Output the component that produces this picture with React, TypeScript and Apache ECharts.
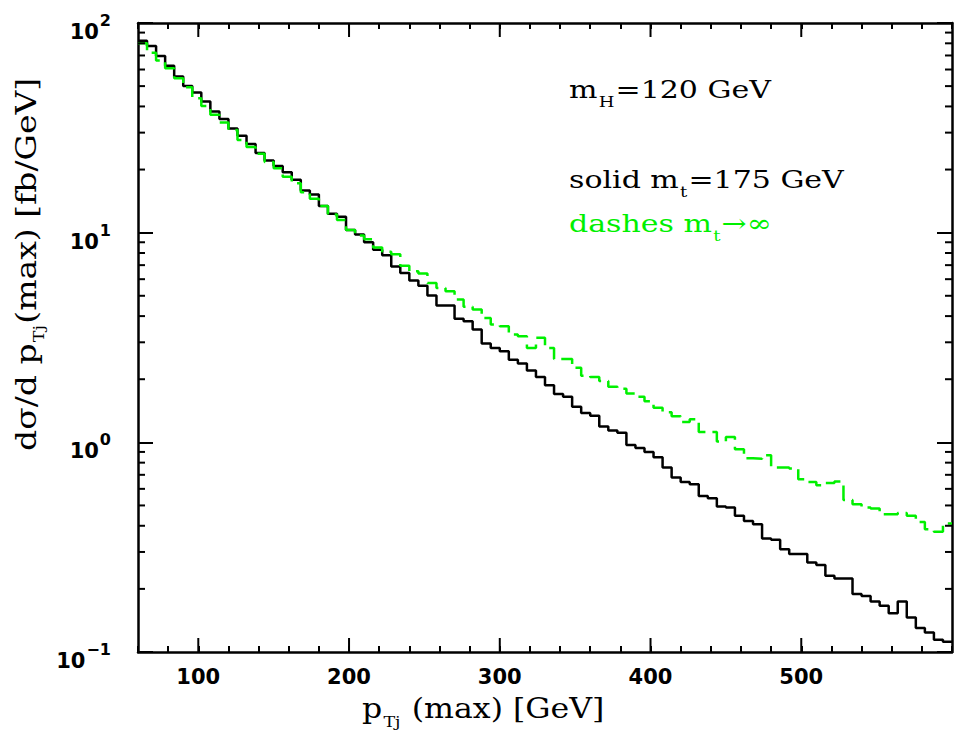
import React, { useEffect, useRef } from "react";
import * as echarts from "echarts";

// ---- data (bins of 6 GeV from 60 to 600 GeV) ----
const X_MIN = 60;
const X_MAX = 600;
const BIN_WIDTH = 6;

// solid: m_t = 175 GeV
const solidValues = [
  82.4, 77.7, 69.6, 62.6, 55.5, 50.1, 46.6, 42.2, 37.8, 34.8, 31.4, 29.0, 26.5, 24.0, 22.1,
  20.8, 19.4, 17.9, 15.9, 15.2, 13.4, 12.3, 11.9, 10.3, 9.8, 9.0, 8.3, 7.8, 6.9, 6.43,
  5.91, 5.59, 5.01, 4.49, 4.49, 3.88, 3.78, 3.45, 2.96, 2.82, 2.72, 2.48, 2.38, 2.2, 2.05,
  1.87, 1.7, 1.65, 1.48, 1.38, 1.34, 1.19, 1.14, 1.11, 0.97, 0.94, 0.9, 0.85, 0.758, 0.679,
  0.647, 0.631, 0.555, 0.541, 0.494, 0.489, 0.446, 0.422, 0.407, 0.348, 0.343, 0.309, 0.293, 0.293, 0.267,
  0.26, 0.231, 0.224, 0.224, 0.189, 0.185, 0.174, 0.166, 0.153, 0.174, 0.146, 0.13, 0.124, 0.1145, 0.112,
];

// dashes: m_t -> infinity
const dashedValues = [
  80.0, 72.2, 66.2, 60.8, 54.5, 49.4, 43.8, 40.2, 36.5, 33.5, 30.9, 27.7, 25.6, 23.8, 21.7,
  20.3, 18.5, 17.2, 15.6, 14.5, 13.4, 12.2, 11.5, 10.3, 9.7, 9.3, 8.5, 8.1, 7.9, 6.96,
  6.54, 6.38, 5.76, 5.45, 5.25, 4.8, 4.43, 4.3, 3.92, 3.65, 3.58, 3.27, 3.21, 2.82, 3.15,
  2.82, 2.5, 2.5, 2.27, 2.08, 2.05, 1.96, 1.84, 1.8, 1.71, 1.65, 1.57, 1.46, 1.39, 1.33,
  1.25, 1.29, 1.12, 1.12, 1.01, 1.06, 0.926, 0.84, 0.836, 0.867, 0.758, 0.758, 0.75, 0.667, 0.647,
  0.624, 0.64, 0.65, 0.531, 0.507, 0.489, 0.483, 0.454, 0.454, 0.46, 0.446, 0.417, 0.385, 0.375, 0.41,
];

const xLabelValues = [100, 200, 300, 400, 500];
const yMin = 0.1;
const yMax = 100;
const yMinorMultipliers = [2, 3, 4, 5, 6, 7, 8, 9];
const yDecadeStarts = [0.1, 1, 10];

const SERIF = "DejaVu Serif";
const SANS = "DejaVu Sans";
const GREEN = "#00f000";

function stepData(values: number[]) {
  const out: number[][] = [];
  for (let i = 0; i <= values.length; i++) {
    out.push([X_MIN + i * BIN_WIDTH, values[Math.min(i, values.length - 1)]]);
  }
  return out;
}

function richSerif(size: number, subSize: number, subPad: number, color: string) {
  return {
    m: { fontSize: size, fontFamily: SERIF, lineHeight: size + 5, verticalAlign: "top", fill: color },
    s: {
      fontSize: subSize,
      fontFamily: SERIF,
      lineHeight: subSize,
      verticalAlign: "top",
      padding: [subPad, 1, 0, 1],
      fill: color,
    },
  };
}

export default function App() {
  const ref = useRef<HTMLDivElement>(null);

  useEffect(() => {
    const chart = echarts.init(ref.current!, null, { renderer: "svg" });

    const yMinorTicks: number[] = [];
    yDecadeStarts.forEach((d) => yMinorMultipliers.forEach((k) => yMinorTicks.push(+(k * d).toPrecision(3))));

    const tickStyle = { stroke: "#000", lineWidth: 2 };

    const option: any = {
      animation: false,
      backgroundColor: "#ffffff",
      grid: { left: 138, top: 23, width: 820, height: 629, show: false },
      xAxis: [
        {
          type: "value",
          min: X_MIN,
          max: X_MAX,
          interval: 20,
          position: "bottom",
          axisLine: { show: true, onZero: false, lineStyle: { color: "#000", width: 2.5 } },
          axisTick: { show: true, inside: true, length: 6, lineStyle: { color: "#000", width: 2 } },
          axisLabel: {
            formatter: (v: number) => (xLabelValues.indexOf(Math.round(v)) >= 0 ? String(Math.round(v)) : ""),
            fontSize: 21,
            fontWeight: "bold",
            fontFamily: SANS,
            color: "#000",
            margin: 14,
          },
          splitLine: { show: false },
        },
        {
          type: "value",
          min: X_MIN,
          max: X_MAX,
          interval: 20,
          position: "top",
          axisLine: { show: true, onZero: false, lineStyle: { color: "#000", width: 2.5 } },
          axisTick: { show: true, inside: true, length: 6, lineStyle: { color: "#000", width: 2 } },
          axisLabel: { show: false },
          splitLine: { show: false },
        },
      ],
      yAxis: [
        {
          type: "log",
          logBase: 10,
          min: yMin,
          max: yMax,
          position: "left",
          axisLine: { show: true, onZero: false, lineStyle: { color: "#000", width: 2.5 } },
          axisTick: { show: true, inside: true, length: 15, lineStyle: { color: "#000", width: 2 } },
          axisLabel: {
            margin: 27,
            formatter: (v: number) => {
              const e = Math.round(Math.log10(v));
              const sup = e < 0 ? "\u2212" + -e : String(e);
              return `{b|10}{s|${sup}}`;
            },
            rich: {
              b: { fontSize: 21, fontWeight: "bold", fontFamily: SANS, color: "#000", lineHeight: 21, padding: [9, 0, 0, 0], verticalAlign: "top" },
              s: { fontSize: 16, fontWeight: "bold", fontFamily: SANS, color: "#000", lineHeight: 16, padding: [0, 0, 0, 1], verticalAlign: "top" },
            },
          },
          splitLine: { show: false },
          minorTick: { show: false },
        },
        {
          type: "log",
          logBase: 10,
          min: yMin,
          max: yMax,
          position: "right",
          axisLine: { show: true, onZero: false, lineStyle: { color: "#000", width: 2.5 } },
          axisTick: { show: true, inside: true, length: 15, lineStyle: { color: "#000", width: 2 } },
          axisLabel: { show: false },
          splitLine: { show: false },
        },
      ],
      series: [
        {
          type: "line",
          name: "solid",
          data: stepData(solidValues),
          step: "end",
          symbol: "none",
          lineStyle: { color: "#000", width: 2.5 },
          z: 3,
        },
        {
          type: "line",
          name: "dashes",
          data: stepData(dashedValues),
          step: "end",
          symbol: "none",
          lineStyle: { color: GREEN, width: 2.5, type: [16, 7] },
          z: 4,
        },
        {
          type: "custom",
          coordinateSystem: "cartesian2d",
          silent: true,
          clip: false,
          z: 5,
          data: yMinorTicks.map((v) => [X_MIN, v]),
          renderItem: (_p: any, api: any) => {
            const v = api.value(1);
            const l = api.coord([X_MIN, v]);
            const r = api.coord([X_MAX, v]);
            return {
              type: "group",
              children: [
                { type: "line", shape: { x1: l[0], y1: l[1], x2: l[0] + 7, y2: l[1] }, style: tickStyle },
                { type: "line", shape: { x1: r[0] - 7, y1: r[1], x2: r[0], y2: r[1] }, style: tickStyle },
              ],
            };
          },
        },
        {
          type: "custom",
          coordinateSystem: "cartesian2d",
          silent: true,
          clip: false,
          z: 5,
          data: xLabelValues.map((v) => [v, yMin]),
          renderItem: (_p: any, api: any) => {
            const x = api.value(0);
            const b = api.coord([x, yMin]);
            const t = api.coord([x, yMax]);
            return {
              type: "group",
              children: [
                { type: "line", shape: { x1: b[0], y1: b[1], x2: b[0], y2: b[1] - 14 }, style: tickStyle },
                { type: "line", shape: { x1: t[0], y1: t[1], x2: t[0], y2: t[1] + 14 }, style: tickStyle },
              ],
            };
          },
        },
      ],
      graphic: [
        {
          type: "text",
          x: 569,
          y: 77,
          scaleX: 1.2,
          style: { text: "{m|m}{s|H}{m|=120 GeV}", rich: richSerif(25, 15, 18, "#000"), fill: "#000", align: "left", verticalAlign: "top" },
        },
        {
          type: "text",
          x: 569,
          y: 167,
          scaleX: 1.2,
          style: { text: "{m|solid m}{s|t}{m|=175 GeV}", rich: richSerif(25, 15, 18, "#000"), fill: "#000", align: "left", verticalAlign: "top" },
        },
        {
          type: "text",
          x: 569,
          y: 210.5,
          scaleX: 1.2,
          style: { text: "{m|dashes m}{s|t}{m|\u2192\u221e}", rich: richSerif(25, 15, 18, GREEN), fill: GREEN, align: "left", verticalAlign: "top" },
        },
        {
          type: "text",
          x: 362,
          y: 695,
          scaleX: 1.17,
          style: { text: "{m|p}{s|Tj}{m| (max) [GeV]}", rich: richSerif(27, 15, 19, "#000"), fill: "#000", align: "left", verticalAlign: "top" },
        },
        {
          type: "text",
          x: 12,
          y: 451,
          rotation: Math.PI / 2,
          scaleX: 1.18,
          style: { text: "{m|d\u03c3/d p}{s|Tj}{m|(max) [fb/GeV]}", rich: richSerif(28, 15, 19, "#000"), fill: "#000", align: "left", verticalAlign: "top" },
        },
      ],
    };

    chart.setOption(option);
    return () => chart.dispose();
  }, []);

  return (
    <div
      ref={ref}
      style={{ position: "fixed", left: 0, top: 0, width: 955, height: 738, background: "#fff" }}
    />
  );
}
